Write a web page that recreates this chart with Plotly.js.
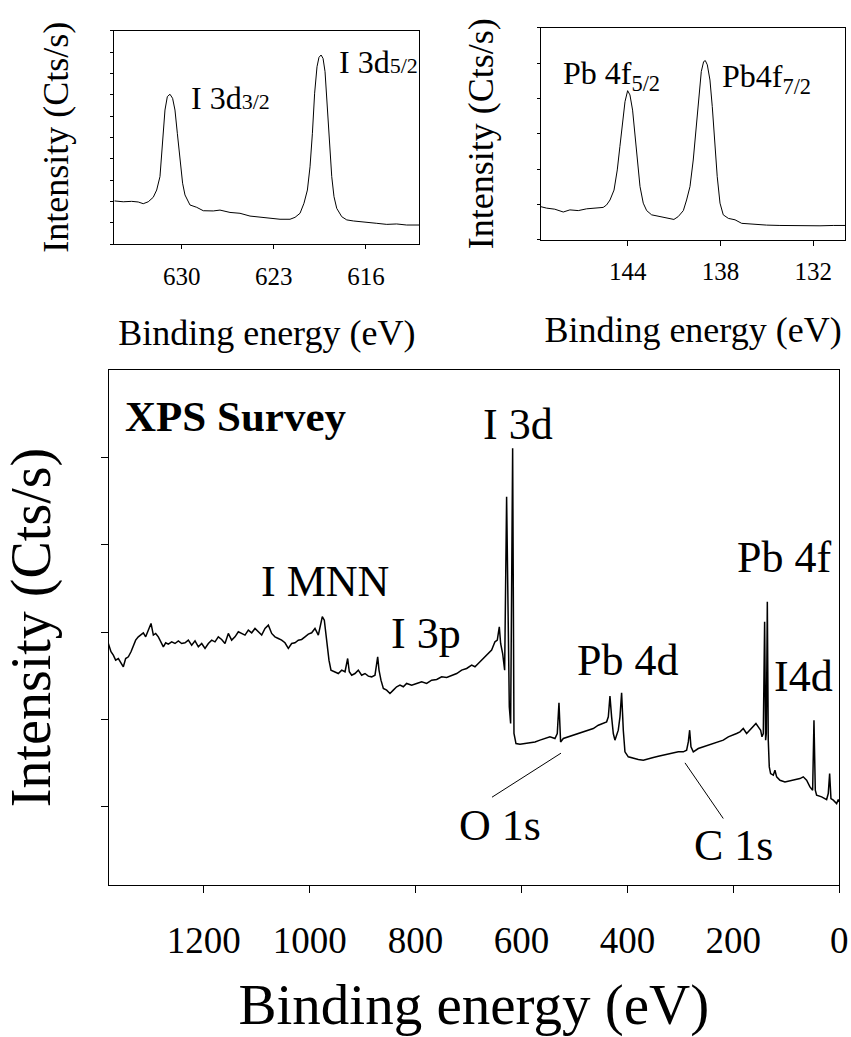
<!DOCTYPE html>
<html><head><meta charset="utf-8">
<script src="https://cdn.plot.ly/plotly-3.0.1.min.js"></script>
<style>html,body{margin:0;padding:0;background:#fff;}#chart{width:851px;height:1037px;}</style>
</head><body><div id="chart"></div>
<script>
// ---- I 3d high-resolution spectrum (top-left inset) ----
const i3dEnergy = [635.12,634.44,633.80,633.30,632.92,632.54,632.16,631.90,631.65,631.45,631.27,631.09,630.89,630.69,630.51,630.33,630.13,629.93,629.75,629.37,628.86,628.36,627.60,627.09,626.33,625.57,624.81,624.05,623.29,622.53,621.77,621.39,621.01,620.71,620.45,620.25,620.07,619.90,619.72,619.57,619.41,619.26,619.11,618.96,618.78,618.60,618.43,618.22,617.84,617.46,616.96,615.94,615.18,614.42,613.67,612.91,611.95];
const i3dIntensity = [2.02,1.98,2.00,1.97,1.89,1.98,2.19,2.53,3.16,4.72,6.28,6.91,7.02,6.83,6.28,5.19,3.94,2.85,2.30,1.83,1.72,1.56,1.55,1.59,1.48,1.44,1.31,1.25,1.19,1.16,1.16,1.25,1.44,1.91,2.53,3.62,5.19,7.07,8.31,8.75,8.86,8.70,8.08,6.75,4.88,3.16,2.22,1.67,1.28,1.13,1.08,1.00,0.97,0.92,0.94,0.89,0.89];

// ---- Pb 4f high-resolution spectrum (top-right inset) ----
const pb4fEnergy = [149.60,149.24,148.71,148.16,147.73,147.19,146.65,146.11,145.58,145.36,145.14,144.88,144.67,144.50,144.33,144.17,144.00,143.85,143.68,143.53,143.38,143.20,142.99,142.77,142.45,141.70,141.27,141.01,140.73,140.40,140.19,139.97,139.76,139.58,139.41,139.24,139.09,138.98,138.85,138.68,138.53,138.38,138.21,138.03,137.82,137.49,137.06,136.63,135.88,135.02,134.16,133.29,132.43,131.57,130.71,129.95];
const pb4fIntensity = [0.94,0.90,0.87,0.79,0.85,0.83,0.88,0.90,0.92,0.99,1.13,1.41,1.98,2.64,3.30,3.91,4.22,4.10,3.67,3.02,2.26,1.51,1.04,0.83,0.71,0.64,0.61,0.58,0.66,0.83,1.13,1.51,2.26,3.11,4.05,4.76,5.04,5.07,4.95,4.52,3.77,2.83,1.79,1.04,0.71,0.61,0.57,0.47,0.44,0.42,0.41,0.40,0.41,0.40,0.41,0.41];

// ---- XPS survey spectrum (main panel) ----
const surveyEnergy = [1380.3,1375.3,1370.9,1366.5,1361.4,1356.4,1352.0,1347.6,1342.5,1337.5,1333.1,1328.7,1323.7,1318.6,1314.2,1309.8,1304.8,1299.7,1295.3,1290.9,1285.9,1280.8,1276.4,1272.0,1267.0,1260.7,1254.4,1248.1,1241.8,1235.5,1229.2,1222.9,1216.6,1210.3,1204.0,1197.7,1191.4,1185.1,1178.9,1172.6,1166.3,1160.0,1153.7,1147.4,1141.1,1134.8,1128.5,1122.2,1115.9,1109.6,1103.3,1097.0,1090.7,1084.4,1078.1,1071.8,1065.6,1059.3,1053.0,1046.7,1040.4,1034.1,1027.8,1021.5,1015.2,1008.9,1002.6,996.3,990.0,983.7,978.7,976.2,972.4,969.2,966.1,963.6,959.8,952.2,945.9,939.6,933.3,928.3,925.2,920.7,914.5,908.2,901.9,895.6,889.3,883.0,876.7,871.6,869.1,865.4,860.9,854.7,848.4,842.1,835.8,829.5,823.2,816.9,807.4,798.0,788.5,779.1,769.7,760.2,750.8,741.3,731.9,722.4,713.0,703.6,694.1,687.9,681.6,675.3,669.0,662.7,656.4,650.1,645.7,641.9,639.4,635.6,631.8,628.1,623.0,620.5,616.7,614.2,610.4,602.9,593.4,584.0,574.5,565.1,555.7,546.2,536.8,532.4,529.2,526.1,521.0,511.6,502.1,492.7,483.3,473.8,464.4,454.9,445.5,439.2,436.0,432.9,429.8,426.6,423.5,420.3,417.2,414.0,410.9,407.7,404.6,398.3,388.8,379.4,369.9,360.5,351.1,341.6,332.2,322.7,313.3,303.8,294.4,288.1,284.9,282.4,279.9,275.5,266.1,256.6,247.2,237.7,228.3,218.9,209.4,200.0,193.7,187.4,181.1,174.8,168.5,162.2,157.2,152.8,148.3,145.8,143.3,140.8,138.9,137.6,135.7,133.9,132.0,129.5,124.4,121.3,118.1,111.8,102.4,93.0,83.5,74.1,67.8,61.5,55.2,50.1,47.6,45.1,42.6,33.1,23.7,20.6,18.0,15.5,11.1,4.8,1.7,0.0];
const surveyIntensity = [28.69,27.74,27.35,26.78,26.97,26.40,26.02,26.97,27.16,27.74,28.31,29.07,29.45,29.76,29.91,29.45,30.22,30.98,29.65,29.84,29.45,28.88,28.31,28.77,28.61,28.88,28.69,28.99,28.69,28.77,29.07,28.50,28.99,28.31,28.69,28.12,28.69,29.07,28.88,29.45,29.15,28.69,29.84,29.07,29.45,30.03,29.84,29.65,30.22,29.91,30.41,30.03,29.65,30.41,30.79,29.84,29.45,29.26,29.07,28.77,28.12,28.69,28.77,29.07,29.15,29.45,29.76,29.91,30.41,29.65,30.98,31.75,31.36,29.45,27.74,26.78,25.64,25.45,25.25,25.64,25.45,26.97,25.45,25.06,25.25,25.64,25.06,25.25,24.95,24.87,25.06,27.16,25.64,24.49,23.54,23.35,22.96,23.35,23.73,23.92,23.73,24.11,23.92,24.11,24.30,24.11,24.49,24.57,24.87,24.80,25.06,25.25,25.64,25.83,26.21,26.02,26.40,26.78,27.16,27.54,27.93,28.88,29.07,30.60,28.69,27.54,25.63,45.49,21.43,19.52,51.03,18.38,17.23,17.16,17.23,17.31,17.42,17.62,17.81,18.00,17.81,18.38,21.89,17.42,17.81,18.00,18.19,18.30,18.57,18.76,18.95,19.33,19.52,19.72,20.29,22.66,20.29,18.38,17.62,18.19,18.76,20.29,23.04,18.76,16.28,15.71,15.52,15.40,15.32,15.52,15.63,15.78,15.90,16.01,16.17,16.28,16.28,16.47,17.42,18.76,16.85,16.28,16.66,16.85,17.04,17.23,17.42,17.62,18.00,18.19,18.38,18.57,18.95,18.38,18.76,19.14,19.52,19.14,18.76,18.00,18.38,31.17,17.62,18.38,33.46,17.62,14.56,13.80,13.61,14.18,13.42,13.03,12.84,12.96,13.11,13.22,13.42,13.03,12.27,11.89,19.91,11.89,11.32,11.13,10.82,11.51,13.80,10.94,10.75,10.36,10.82,10.55];

// ---- tick labels ----
const i3dTicks = [630, 623, 616];
const pb4fTicks = [144, 138, 132];
const surveyTicks = [1200, 1000, 800, 600, 400, 200, 0];

const FONT = 'Liberation Serif, Times New Roman, serif';
const base = {showgrid:false, zeroline:false, showline:true, mirror:true, linecolor:'#000', linewidth:1,
  ticks:'outside', tickcolor:'#000', tickwidth:1, fixedrange:true};

const traces = [
  {x:i3dEnergy, y:i3dIntensity, type:'scatter', mode:'lines', line:{color:'#000', width:1}, xaxis:'x', yaxis:'y', hoverinfo:'skip'},
  {x:pb4fEnergy, y:pb4fIntensity, type:'scatter', mode:'lines', line:{color:'#000', width:1}, xaxis:'x2', yaxis:'y2', hoverinfo:'skip'},
  {x:surveyEnergy, y:surveyIntensity, type:'scatter', mode:'lines', line:{color:'#000', width:1.5}, xaxis:'x3', yaxis:'y3', hoverinfo:'skip'}
];

const layout = {
  width:851, height:1037, margin:{l:0, r:0, t:0, b:0, pad:0},
  paper_bgcolor:'#fff', plot_bgcolor:'#fff', showlegend:false,
  font:{family:FONT, color:'#000'},
  xaxis:Object.assign({}, base, {domain:[0.1343,0.4927], anchor:'y', range:[635.12,611.95], tickmode:'array', tickvals:i3dTicks,
    ticklen:4, tickfont:{size:25}, ticklabelstandoff:6, title:{text:'Binding energy (eV)', font:{size:36}, standoff:30}}),
  yaxis:Object.assign({}, base, {domain:[0.7647,0.9704], anchor:'x', range:[0,10], tick0:0, dtick:1, ticklen:3,
    showticklabels:false, title:{text:'Intensity (Cts/s)', font:{size:36}, standoff:30}}),
  xaxis2:Object.assign({}, base, {domain:[0.6357,0.9930], anchor:'y2', range:[149.6,129.95], tickmode:'array', tickvals:pb4fTicks,
    ticklen:5, tickfont:{size:25}, ticklabelstandoff:4, title:{text:'Binding energy (eV)', font:{size:36}, standoff:32}}),
  yaxis2:Object.assign({}, base, {domain:[0.7686,0.9733], anchor:'x2', range:[0,6], tick0:0, dtick:1, ticklen:3,
    showticklabels:false, title:{text:'Intensity (Cts/s)', font:{size:36}, standoff:32}}),
  xaxis3:Object.assign({}, base, {domain:[0.1275,0.9861], anchor:'y3', range:[1380,0], tickmode:'array', tickvals:surveyTicks,
    ticklen:7, tickfont:{size:37}, ticklabelstandoff:16, title:{text:'Binding energy (eV)', font:{size:57}, standoff:35}}),
  yaxis3:Object.assign({}, base, {domain:[0.1466,0.6432], anchor:'x3', range:[1.04,60], tickmode:'array', tickvals:[10,20,30,40,50], ticklen:7,
    showticklabels:false, title:{text:'Intensity (Cts/s)', font:{size:56}, standoff:34}}),
  annotations:[
    {xref:'x', yref:'y', x:629.45, y:6.84, xanchor:'left', yanchor:'middle', showarrow:false, font:{size:32},
     text:'I 3d<span style="font-size:22px">3/2</span>'},
    {xref:'x', yref:'y', x:618.2, y:8.53, xanchor:'left', yanchor:'middle', showarrow:false, font:{size:32},
     text:'I 3d<span style="font-size:22px">5/2</span>'},
    {xref:'x2', yref:'y2', x:148.31, y:4.65, xanchor:'left', yanchor:'middle', showarrow:false, font:{size:32},
     text:'Pb 4f<sub>5/2</sub>'},
    {xref:'x2', yref:'y2', x:138.03, y:4.55, xanchor:'left', yanchor:'middle', showarrow:false, font:{size:32},
     text:'Pb4f<sub>7/2</sub>'},
    {xref:'x3', yref:'y3', x:1352.6, y:54.67, xanchor:'left', yanchor:'middle', showarrow:false, font:{size:43}, text:'<b>XPS Survey</b>'},
    {xref:'x3', yref:'y3', x:971.1, y:35.83, xanchor:'center', yanchor:'middle', showarrow:false, font:{size:44}, text:'I MNN'},
    {xref:'x3', yref:'y3', x:780.4, y:29.87, xanchor:'center', yanchor:'middle', showarrow:false, font:{size:44}, text:'I 3p'},
    {xref:'x3', yref:'y3', x:606.6, y:53.81, xanchor:'center', yanchor:'middle', showarrow:false, font:{size:44}, text:'I 3d'},
    {xref:'x3', yref:'y3', x:104.3, y:38.52, xanchor:'center', yanchor:'middle', showarrow:false, font:{size:44}, text:'Pb 4f'},
    {xref:'x3', yref:'y3', x:399.8, y:26.72, xanchor:'center', yanchor:'middle', showarrow:false, font:{size:44}, text:'Pb 4d'},
    {xref:'x3', yref:'y3', x:66.5, y:24.87, xanchor:'center', yanchor:'middle', showarrow:false, font:{size:44}, text:'I4d'},
    {xref:'x3', yref:'y3', x:640.6, y:7.88, xanchor:'center', yanchor:'middle', showarrow:false, font:{size:44}, text:'O 1s'},
    {xref:'x3', yref:'y3', x:198.7, y:5.59, xanchor:'center', yanchor:'middle', showarrow:false, font:{size:44}, text:'C 1s'}
  ],
  shapes:[
    {type:'line', xref:'x3', yref:'y3', x0:655.7, y0:11.09, x1:525.4, y1:16.13, line:{color:'#000', width:1}},
    {type:'line', xref:'x3', yref:'y3', x0:291.2, y0:15.02, x1:218.9, y1:8.65, line:{color:'#000', width:1}}
  ]
};

Plotly.newPlot('chart', traces, layout, {staticPlot:true, displayModeBar:false});
</script>
</body></html>
